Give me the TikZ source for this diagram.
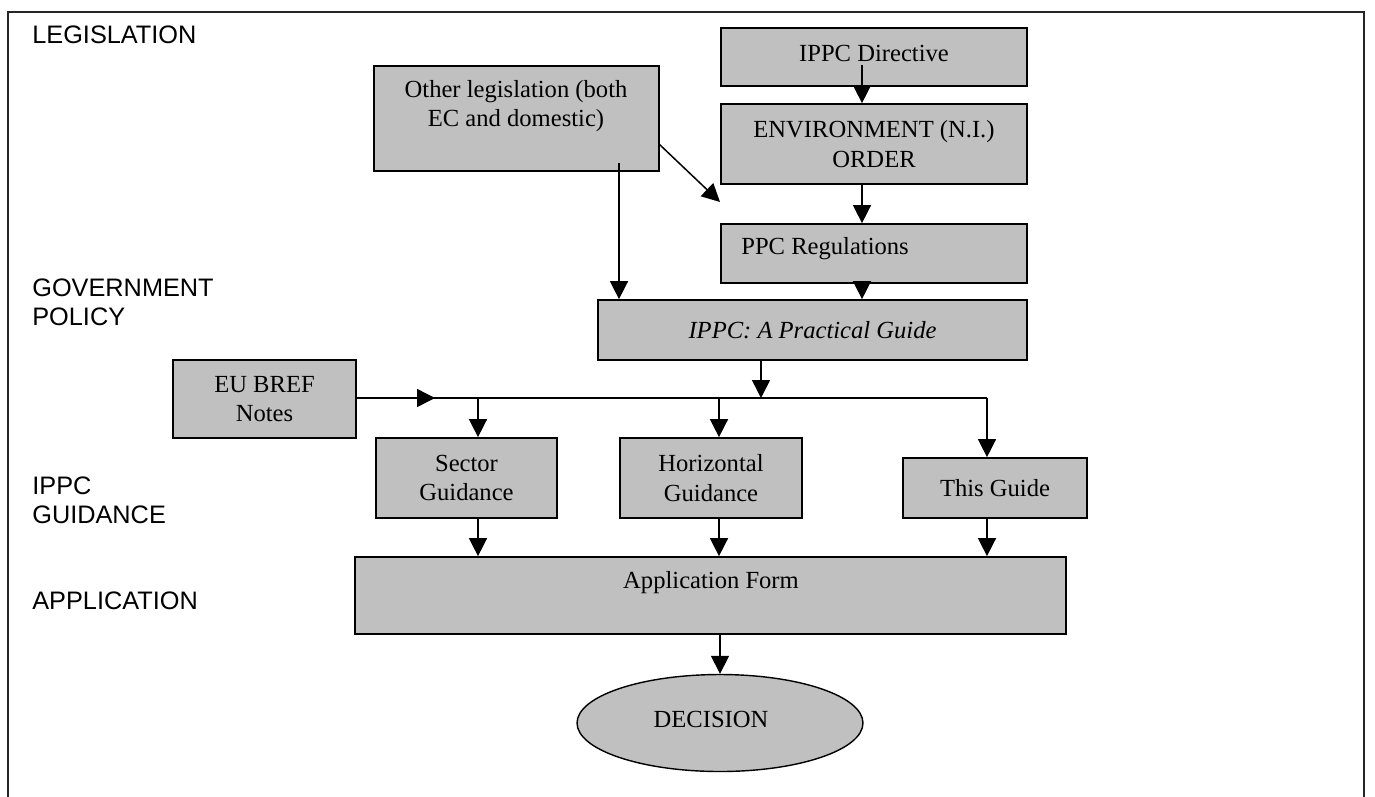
\documentclass[tikz,border=0pt]{standalone}
\usepackage{fontspec}
\setmainfont{Liberation Serif}
\setsansfont{Liberation Sans}
\usetikzlibrary{arrows.meta,shapes.geometric,calc}
\definecolor{boxgray}{HTML}{C0C0C0}
\tikzset{
  gbox/.style={draw=black, fill=boxgray, line width=1pt, inner sep=0pt, align=center,
    font=\fontsize{14}{16.8}\selectfont},
  btext/.style={inner sep=0pt, align=center, font=\fontsize{14}{16.8}\selectfont},
  lvl/.style={anchor=west, inner sep=0pt, align=left, font=\sffamily\fontsize{14.4}{16.5}\selectfont},
  arr/.style={draw=black, line width=0.85pt, -{Triangle[length=3.6mm,width=3.6mm]}},
  conn/.style={draw=black, line width=0.85pt},
  frame/.style={draw=black!85, line width=1.1pt},
}
\begin{document}
\begin{tikzpicture}[x=0.02cm,y=-0.02cm]
\useasboundingbox (0,0) rectangle (1375,796);
% outer frame (open at bottom)
\draw[frame] (8,800) -- (8,12) -- (1364,12) -- (1364,800);

% level labels
\node[lvl] (lleg) at (32,35) {LEGISLATION};
\node[lvl] (lgov) at (32,302) {GOVERNMENT\\POLICY};
\node[lvl] (lgui) at (32,500) {IPPC\\GUIDANCE};
\node[lvl] (lapp) at (32,601) {APPLICATION};

% boxes
\node[gbox, minimum width=6.12cm, minimum height=1.16cm] (dir) at (874,57) {};
\node[btext] (dirt) at (874,53) {IPPC Directive};
\node[gbox, minimum width=6.12cm, minimum height=1.6cm] (env) at (874,144) {ENVIRONMENT (N.I.)\\ORDER};
\node[gbox, minimum width=5.7cm, minimum height=2.1cm] (oth) at (516.5,118.5) {};
\node[btext] (otht) at (516,106) {Other legislation (both\\EC and domestic)};
\node[gbox, minimum width=6.12cm, minimum height=1.18cm] (ppc) at (874,253.5) {};
\node[btext, anchor=west] (ppct) at (741,249) {PPC Regulations};
\node[gbox, minimum width=8.58cm, minimum height=1.2cm] (gui) at (812.5,330) {\itshape IPPC: A Practical Guide};
\node[gbox, minimum width=3.66cm, minimum height=1.56cm] (bref) at (264.5,399) {EU BREF\\Notes};
\node[gbox, minimum width=3.62cm, minimum height=1.6cm] (sec) at (466.5,478) {Sector\\Guidance};
\node[gbox, minimum width=3.64cm, minimum height=1.6cm] (hor) at (711,478) {Horizontal\\Guidance};
\node[gbox, minimum width=3.68cm, minimum height=1.2cm] (thg) at (995,488) {This Guide};
\node[gbox, minimum width=14.22cm, minimum height=1.54cm] (app) at (710.5,595.5) {};
\node[btext] (appt) at (711,583) {Application Form};
\node[gbox, ellipse, line width=0.8pt, minimum width=5.72cm, minimum height=1.94cm] (dec) at (720,723) {};
\node[btext] (dect) at (711,719) {DECISION};

% helper coordinates
\coordinate (c1) at (862,65);
\coordinate (c2) at (619,163);
\coordinate (c3) at (659,144);
\coordinate (c4) at (720,202);
\coordinate (bA) at (435,398);
\coordinate (bS) at (478,398);
\coordinate (bH) at (719,398);
\coordinate (bG) at (761,398);
\coordinate (bR) at (987,398);

% connectors
\draw[arr] (c1) -- (c1 |- env.north);
\draw[arr] (c1 |- env.south) -- (c1 |- ppc.north);
\draw[arr] (c1 |- ppc.south) -- (c1 |- gui.north);
\draw[arr] (c2) -- (c2 |- gui.north);
\draw[arr] (c3) -- (c4);
\draw[arr] (bG |- gui.south) -- (bG);
\draw[conn] (bref.east |- bA) -- (bR);
\draw[arr] (bref.east |- bA) -- (bA);
\draw[arr] (bS) -- (bS |- sec.north);
\draw[arr] (bH) -- (bH |- hor.north);
\draw[arr] (bR) -- (bR |- thg.north);
\draw[arr] (bS |- sec.south) -- (bS |- app.north);
\draw[arr] (bH |- hor.south) -- (bH |- app.north);
\draw[arr] (bR |- thg.south) -- (bR |- app.north);
\draw[arr] (dec.north |- app.south) -- (dec.north);
\end{tikzpicture}
\end{document}
